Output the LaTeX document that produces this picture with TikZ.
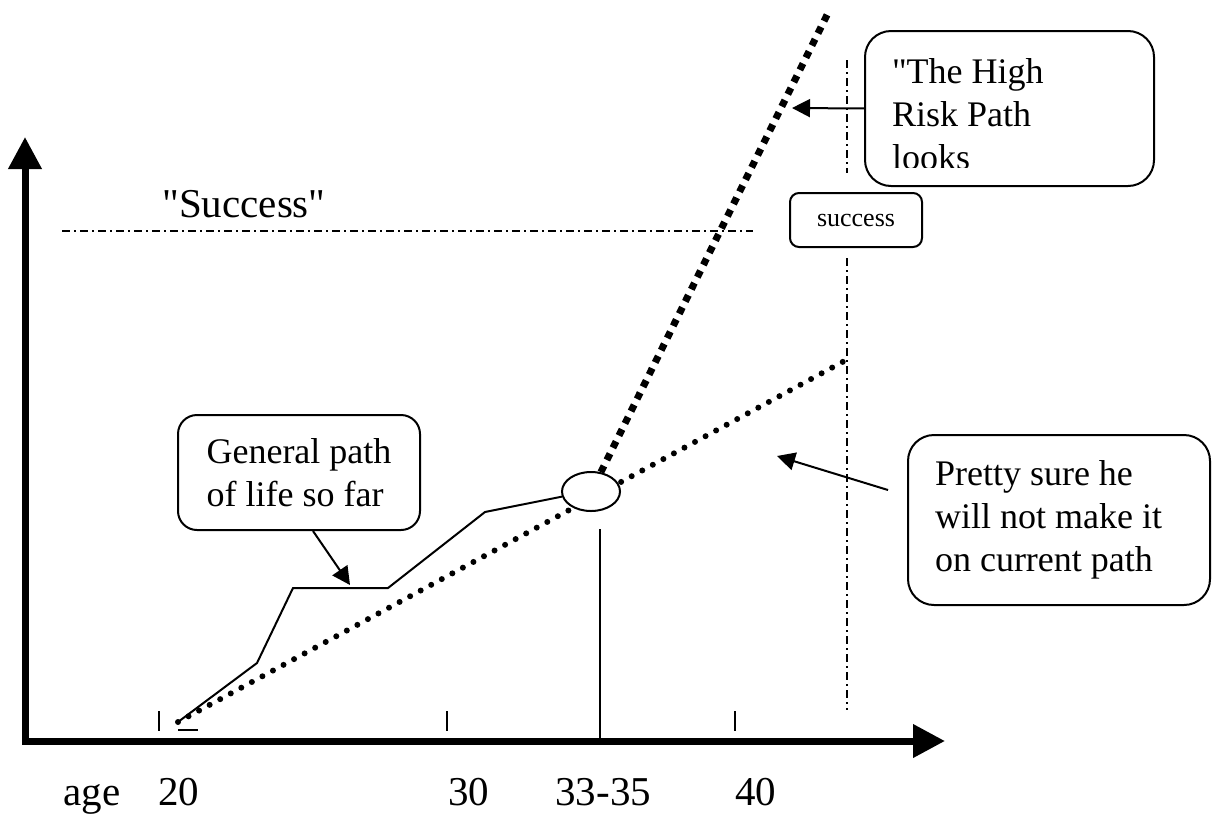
\documentclass[tikz,border=0pt]{standalone}
\usepackage{fontspec}
\setmainfont{Liberation Serif}
\usetikzlibrary{arrows.meta,shapes.geometric,positioning}

\begin{document}
\begin{tikzpicture}[
    x=0.5pt, y=-0.5pt,
    axis/.style={line width=3.5pt, line cap=rect, -{Triangle[length=16pt,width=16pt]}},
    callout/.style={rectangle, draw, line width=1pt, align=flush left, inner ysep=0pt, font=\fontsize{18}{21.5}\selectfont},
    tag/.style={rectangle, draw, line width=1pt, align=center, inner sep=0pt, font=\fontsize{13}{15}\selectfont},
    pointer/.style={-{Triangle[length=9pt,width=9pt]}, line width=1pt},
    dashdot/.style={line width=0.75pt, dash pattern=on 4pt off 2pt on 1pt off 2pt},
    lifepath/.style={line width=1pt, line join=miter},
    slowpath/.style={line width=3pt, line cap=round, dash pattern=on 0pt off 6pt},
    riskpath/.style={line width=3.5pt, dash pattern=on 3.5pt off 3.3pt},
    tickmark/.style={line width=1pt},
    agelabel/.style={anchor=base west, inner sep=0pt, font=\fontsize{20.5}{24}\selectfont}
]
\useasboundingbox (0,0) rectangle (1213,814);

% Success level and deadline
\coordinate (goalL) at (62,231);
\coordinate (goalR) at (753,231);
\draw[dashdot] (goalL) -- (goalR);
\node[agelabel] (goallabel) at (162,217) {\textquotedbl Success\textquotedbl};

\coordinate (deadA) at (847,60);
\coordinate (deadB) at (847,173);
\coordinate (deadC) at (847,258);
\coordinate (deadD) at (847,710);
\draw[dashdot] (deadA) -- (deadB);
\draw[dashdot] (deadC) -- (deadD);

% Axes
\coordinate (origin) at (25,741);
\coordinate (ytop) at (25,137);
\coordinate (xend) at (945,741);
\draw[axis] (origin) -- (ytop);
\draw[axis] (origin) -- (xend);

% Ticks
\draw[tickmark] (159,711) -- (159,731);
\draw[tickmark] (447,711) -- (447,731);
\draw[tickmark] (735,711) -- (735,731);
\draw[tickmark] (178,730) -- (198,730);

% Age labels
\node[agelabel] (agelab) at (63,805) {age};
\node[agelabel] (age20) at (158,805) {20};
\node[agelabel] (age30) at (448,805) {30};
\node[agelabel] (age33) at (555,805) {33-35};
\node[agelabel] (age40) at (735,805) {40};

% Current path
\coordinate (start) at (178,722);
\coordinate (slowend) at (848,359);
\draw[slowpath] (start) -- (slowend);

% Fork point
\node[ellipse, draw, fill=white, line width=1pt, minimum width=29pt, minimum height=19.5pt, inner sep=0pt] (fork) at (591,491.5) {};

% Life so far
\coordinate (life1) at (257,663);
\coordinate (life2) at (293,588);
\coordinate (life3) at (388,588);
\coordinate (life4) at (485,512);
\draw[lifepath] (start) -- (life1) -- (life2) -- (life3) -- (life4) -- (fork.190);

% High risk path
\coordinate (riskend) at (828,13);
\draw[riskpath] (fork.63) -- (riskend);

% Drop line
\coordinate (forkdrop) at (600,529);
\draw[lifepath] (forkdrop) -- (forkdrop |- origin);

% Callouts
\node[callout, minimum width=121pt, minimum height=57.5pt, rounded corners=9.5pt] (generalbox) at (299,472.5) {General path\\of life so far};
\node[callout, text width=124pt, inner xsep=13.5pt, minimum height=85pt, rounded corners=13pt] (prettybox) at (1059,520) {Pretty sure he\\will not make it\\on current path};
\begin{scope}
\clip (866,32) rectangle (1153,167.5);
\node[callout, draw=none, text width=117.5pt, inner xsep=13pt, minimum height=76.5pt] (highbox) at (1009.5,114.5) {\textquotedbl The High\\Risk Path\\looks};
\end{scope}
\draw[line width=1pt, rounded corners=13pt] ([yshift=3pt]highbox.south west) rectangle ([yshift=3pt]highbox.north east);
\node[tag, minimum width=66pt, minimum height=27pt, rounded corners=4.5pt] (successbox) at (856,220) {success};

% Pointers
\coordinate (hightip) at (792,108);
\coordinate (gentip) at (350,585);
\coordinate (prettytail) at (888,490);
\coordinate (prettytip) at (777,456);
\draw[pointer] ([yshift=3pt]highbox.west) -- (hightip);
\draw[pointer] ([xshift=7pt]generalbox.south) -- (gentip);
\draw[pointer] (prettytail) -- (prettytip);

\end{tikzpicture}
\end{document}
